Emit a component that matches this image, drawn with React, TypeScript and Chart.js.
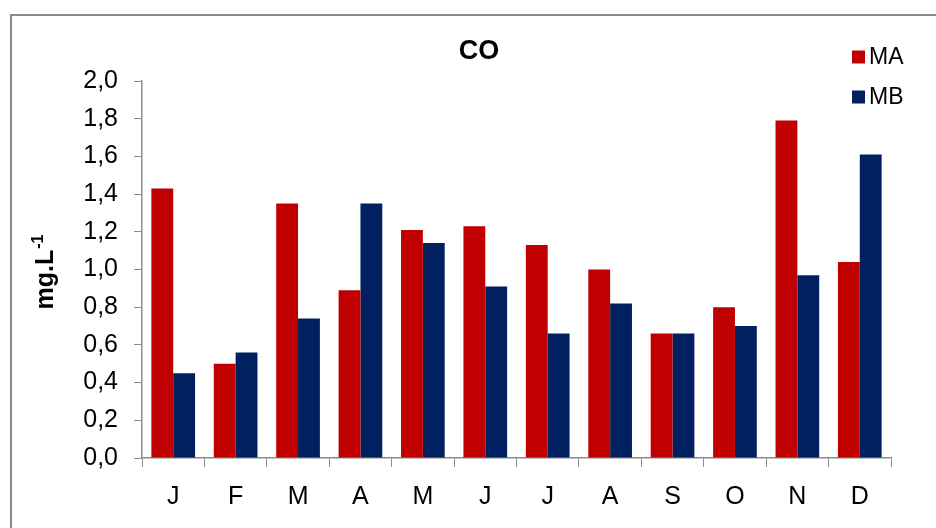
import React, { useEffect, useRef } from "react";
import { Chart, registerables } from "chart.js";

Chart.register(...registerables);

// Monthly CO concentrations (mg.L-1) at the two sites
const months = ["J", "F", "M", "A", "M", "J", "J", "A", "S", "O", "N", "D"];
const seriesMA = [1.43, 0.5, 1.35, 0.89, 1.21, 1.23, 1.13, 1.0, 0.66, 0.8, 1.79, 1.04];
const seriesMB = [0.45, 0.56, 0.74, 1.35, 1.14, 0.91, 0.66, 0.82, 0.66, 0.7, 0.97, 1.61];
const yTickLabels = ["0,0", "0,2", "0,4", "0,6", "0,8", "1,0", "1,2", "1,4", "1,6", "1,8", "2,0"];

const chartTitle = "CO";
const yTitleMain = "mg.L";
const yTitleSup = "-1";

const RED = "#C00000";
const NAVY = "#002060";
const AXIS_GREY = "#8c8c8c";
const FONT = "'Liberation Sans', Arial, sans-serif";

// Frame, title, rotated unit label and the legend drawn on top of the chart
const decorations = {
  id: "decorations",
  afterDraw(chart: any) {
    const { ctx, chartArea } = chart;
    ctx.save();

    // outer frame (only the top-left corner falls inside the canvas)
    ctx.strokeStyle = "#8a8a8a";
    ctx.lineWidth = 2;
    ctx.beginPath();
    ctx.moveTo(11, 600);
    ctx.lineTo(11, 15);
    ctx.lineTo(1000, 15);
    ctx.stroke();

    // title
    ctx.fillStyle = "#000";
    ctx.font = `bold 27px ${FONT}`;
    ctx.textAlign = "center";
    ctx.textBaseline = "middle";
    ctx.fillText(chartTitle, 479, 52);

    // rotated y-axis unit
    const cy = (chartArea.top + chartArea.bottom) / 2 + 3;
    ctx.translate(53, cy);
    ctx.rotate(-Math.PI / 2);
    ctx.font = `bold 25px ${FONT}`;
    const wMain = ctx.measureText(yTitleMain).width;
    ctx.font = `bold 16px ${FONT}`;
    const wSup = ctx.measureText(yTitleSup).width;
    const start = -(wMain + wSup) / 2;
    ctx.textAlign = "left";
    ctx.textBaseline = "alphabetic";
    ctx.font = `bold 25px ${FONT}`;
    ctx.fillText(yTitleMain, start, 0);
    ctx.font = `bold 16px ${FONT}`;
    ctx.fillText(yTitleSup, start + wMain + 1, -10);
    ctx.setTransform(1, 0, 0, 1, 0, 0);

    // legend
    ctx.font = `23px ${FONT}`;
    ctx.textAlign = "left";
    ctx.textBaseline = "middle";
    chart.data.datasets.forEach((ds: any, i: number) => {
      const y = 57 + i * 40;
      ctx.fillStyle = ds.backgroundColor;
      ctx.fillRect(852, y - 6.5, 13, 13);
      ctx.fillStyle = "#000";
      ctx.fillText(ds.label, 869, y + 1);
    });

    ctx.restore();
  },
};

export default function App() {
  const canvasRef = useRef<HTMLCanvasElement | null>(null);

  useEffect(() => {
    if (!canvasRef.current) return;
    const chart = new Chart(canvasRef.current, {
      type: "bar",
      data: {
        labels: months,
        datasets: [
          { label: "MA", data: seriesMA, backgroundColor: RED },
          { label: "MB", data: seriesMB, backgroundColor: NAVY },
        ],
      },
      options: {
        animation: false,
        responsive: true,
        maintainAspectRatio: false,
        layout: { padding: { top: 81, right: 45, left: 0, bottom: 0 } },
        datasets: {
          bar: { categoryPercentage: 0.7, barPercentage: 1.0 },
        },
        plugins: {
          legend: { display: false },
          title: { display: false },
          tooltip: { enabled: false },
        },
        scales: {
          x: {
            afterFit: (scale: any) => {
              scale.height = 70;
            },
            grid: {
              offset: true,
              drawOnChartArea: false,
              drawTicks: true,
              tickLength: 9,
              color: AXIS_GREY,
              lineWidth: 1,
            },
            border: { display: true, color: AXIS_GREY, width: 1.5 },
            ticks: {
              color: "#000",
              padding: 15,
              font: { family: FONT, size: 25 },
            },
          },
          y: {
            min: 0,
            max: 2,
            afterFit: (scale: any) => {
              scale.width = 142;
            },
            grid: {
              drawOnChartArea: false,
              drawTicks: true,
              tickLength: 8,
              color: AXIS_GREY,
              lineWidth: 1,
            },
            border: { display: true, color: AXIS_GREY, width: 1.5 },
            ticks: {
              stepSize: 0.2,
              color: "#000",
              padding: 16,
              font: { family: FONT, size: 25 },
              callback: (_v: any, i: number) => yTickLabels[i],
            },
          },
        },
      },
      plugins: [decorations],
    });
    return () => chart.destroy();
  }, []);

  return (
    <div
      style={{
        position: "absolute",
        left: 0,
        top: 0,
        width: 936,
        height: 528,
        background: "#fff",
      }}
    >
      <canvas ref={canvasRef} />
    </div>
  );
}
